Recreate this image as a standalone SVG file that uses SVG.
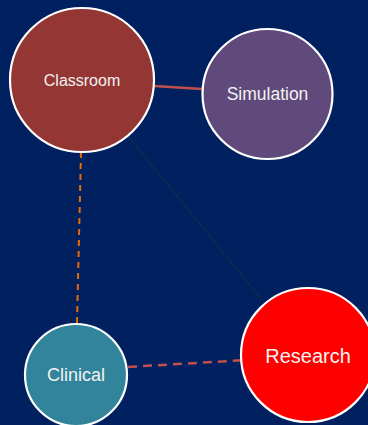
<svg xmlns="http://www.w3.org/2000/svg" width="368" height="425" viewBox="0 0 368 425">
<style>
.node{stroke:#ffffff;stroke-width:2.2}
.lbl{font-family:"Liberation Sans",Arial,sans-serif;fill:#f2f2f2;text-anchor:middle}
</style>
<rect width="368" height="425" fill="#00205f"/>
<g id="connectors" fill="none">
<line x1="128" y1="136" x2="262" y2="300" stroke="#0f2b4c" stroke-width="1.2"/>
<line x1="154" y1="86" x2="202" y2="89" stroke="#c0504d" stroke-width="2.5"/>
<line x1="81" y1="152" x2="77" y2="323" stroke="#e36c09" stroke-width="2" stroke-dasharray="6,5"/>
<line x1="128" y1="367" x2="246" y2="360" stroke="#c0504d" stroke-width="2.5" stroke-dasharray="9,6"/>
</g>
<g id="classroom">
<circle class="node" cx="82" cy="80" r="72" fill="#943634"/>
<text class="lbl" x="82" y="86" font-size="16">Classroom</text>
</g>
<g id="simulation">
<circle class="node" cx="267.5" cy="94" r="65" fill="#604a7b"/>
<text class="lbl" x="267.5" y="100" font-size="17.5">Simulation</text>
</g>
<g id="clinical">
<circle class="node" cx="76" cy="375" r="51" fill="#31849b"/>
<text class="lbl" x="76" y="381" font-size="18">Clinical</text>
</g>
<g id="research">
<circle class="node" cx="308" cy="355" r="67" fill="#ff0000"/>
<text class="lbl" x="308" y="363" font-size="20">Research</text>
</g>
</svg>
